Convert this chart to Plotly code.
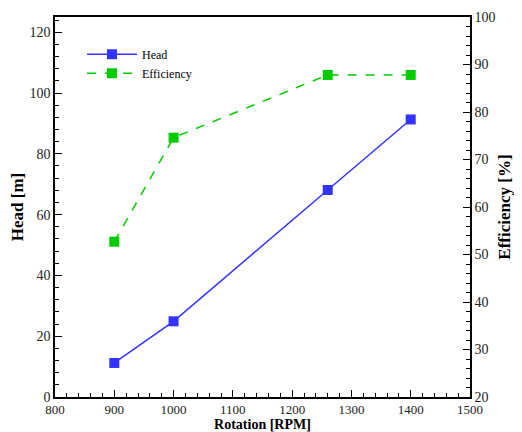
import plotly.graph_objects as go

rpm = [900, 1000, 1260, 1400]
head = [11.2, 24.9, 68.1, 91.3]
efficiency = [52.7, 74.6, 87.8, 87.8]

serif = "Liberation Serif"

fig = go.Figure()
fig.add_trace(go.Scatter(x=rpm, y=head, name="Head", mode="lines+markers",
                         line=dict(color="#3333ff", width=1.5),
                         marker=dict(symbol="square", size=10, color="#3333ff")))
fig.add_trace(go.Scatter(x=rpm, y=efficiency, name="Efficiency", mode="lines+markers",
                         yaxis="y2",
                         line=dict(color="#00cc00", width=1.5, dash="dash"),
                         marker=dict(symbol="square", size=10, color="#00cc00")))

axis_common = dict(showline=True, linecolor="black", linewidth=1.5,
                   ticks="inside", ticklen=7, tickcolor="black",
                   showgrid=False, zeroline=False, automargin=False)

# page body has an 8px margin, so the figure is a bit smaller than the window
fig.update_layout(
    width=514, height=424,
    margin=dict(l=47, r=52, t=9, b=35),
    paper_bgcolor="white", plot_bgcolor="white",
    font=dict(family=serif, color="black"),
    showlegend=True,
    legend=dict(x=0.065, y=0.94, xanchor="left", yanchor="top",
                bgcolor="rgba(0,0,0,0)", font=dict(family=serif, size=12),
                tracegroupgap=0, itemwidth=50),
    xaxis=dict(range=[800, 1500], dtick=100, mirror=True,
               tickfont=dict(family=serif, size=13, color="#222"),
               minor=dict(dtick=20, ticks="inside", ticklen=4, tickcolor="black"),
               title=dict(text="<b>Rotation [RPM]</b>", font=dict(family=serif, size=14), standoff=0),
               **axis_common),
    yaxis=dict(range=[0, 125], dtick=20,
               tickfont=dict(family=serif, size=14, color="#222"),
               minor=dict(dtick=4, ticks="inside", ticklen=4, tickcolor="black"),
               title=dict(text="<b>Head [m]</b>", font=dict(family=serif, size=17), standoff=7),
               **axis_common),
    yaxis2=dict(range=[20, 100], dtick=10, overlaying="y", side="right",
                tickfont=dict(family=serif, size=14, color="#222"),
                minor=dict(dtick=2, ticks="inside", ticklen=4, tickcolor="black"),
                title=dict(text="<b>Efficiency [%]</b>", font=dict(family=serif, size=17), standoff=4),
                **axis_common),
)

fig.write_html("out.html")
